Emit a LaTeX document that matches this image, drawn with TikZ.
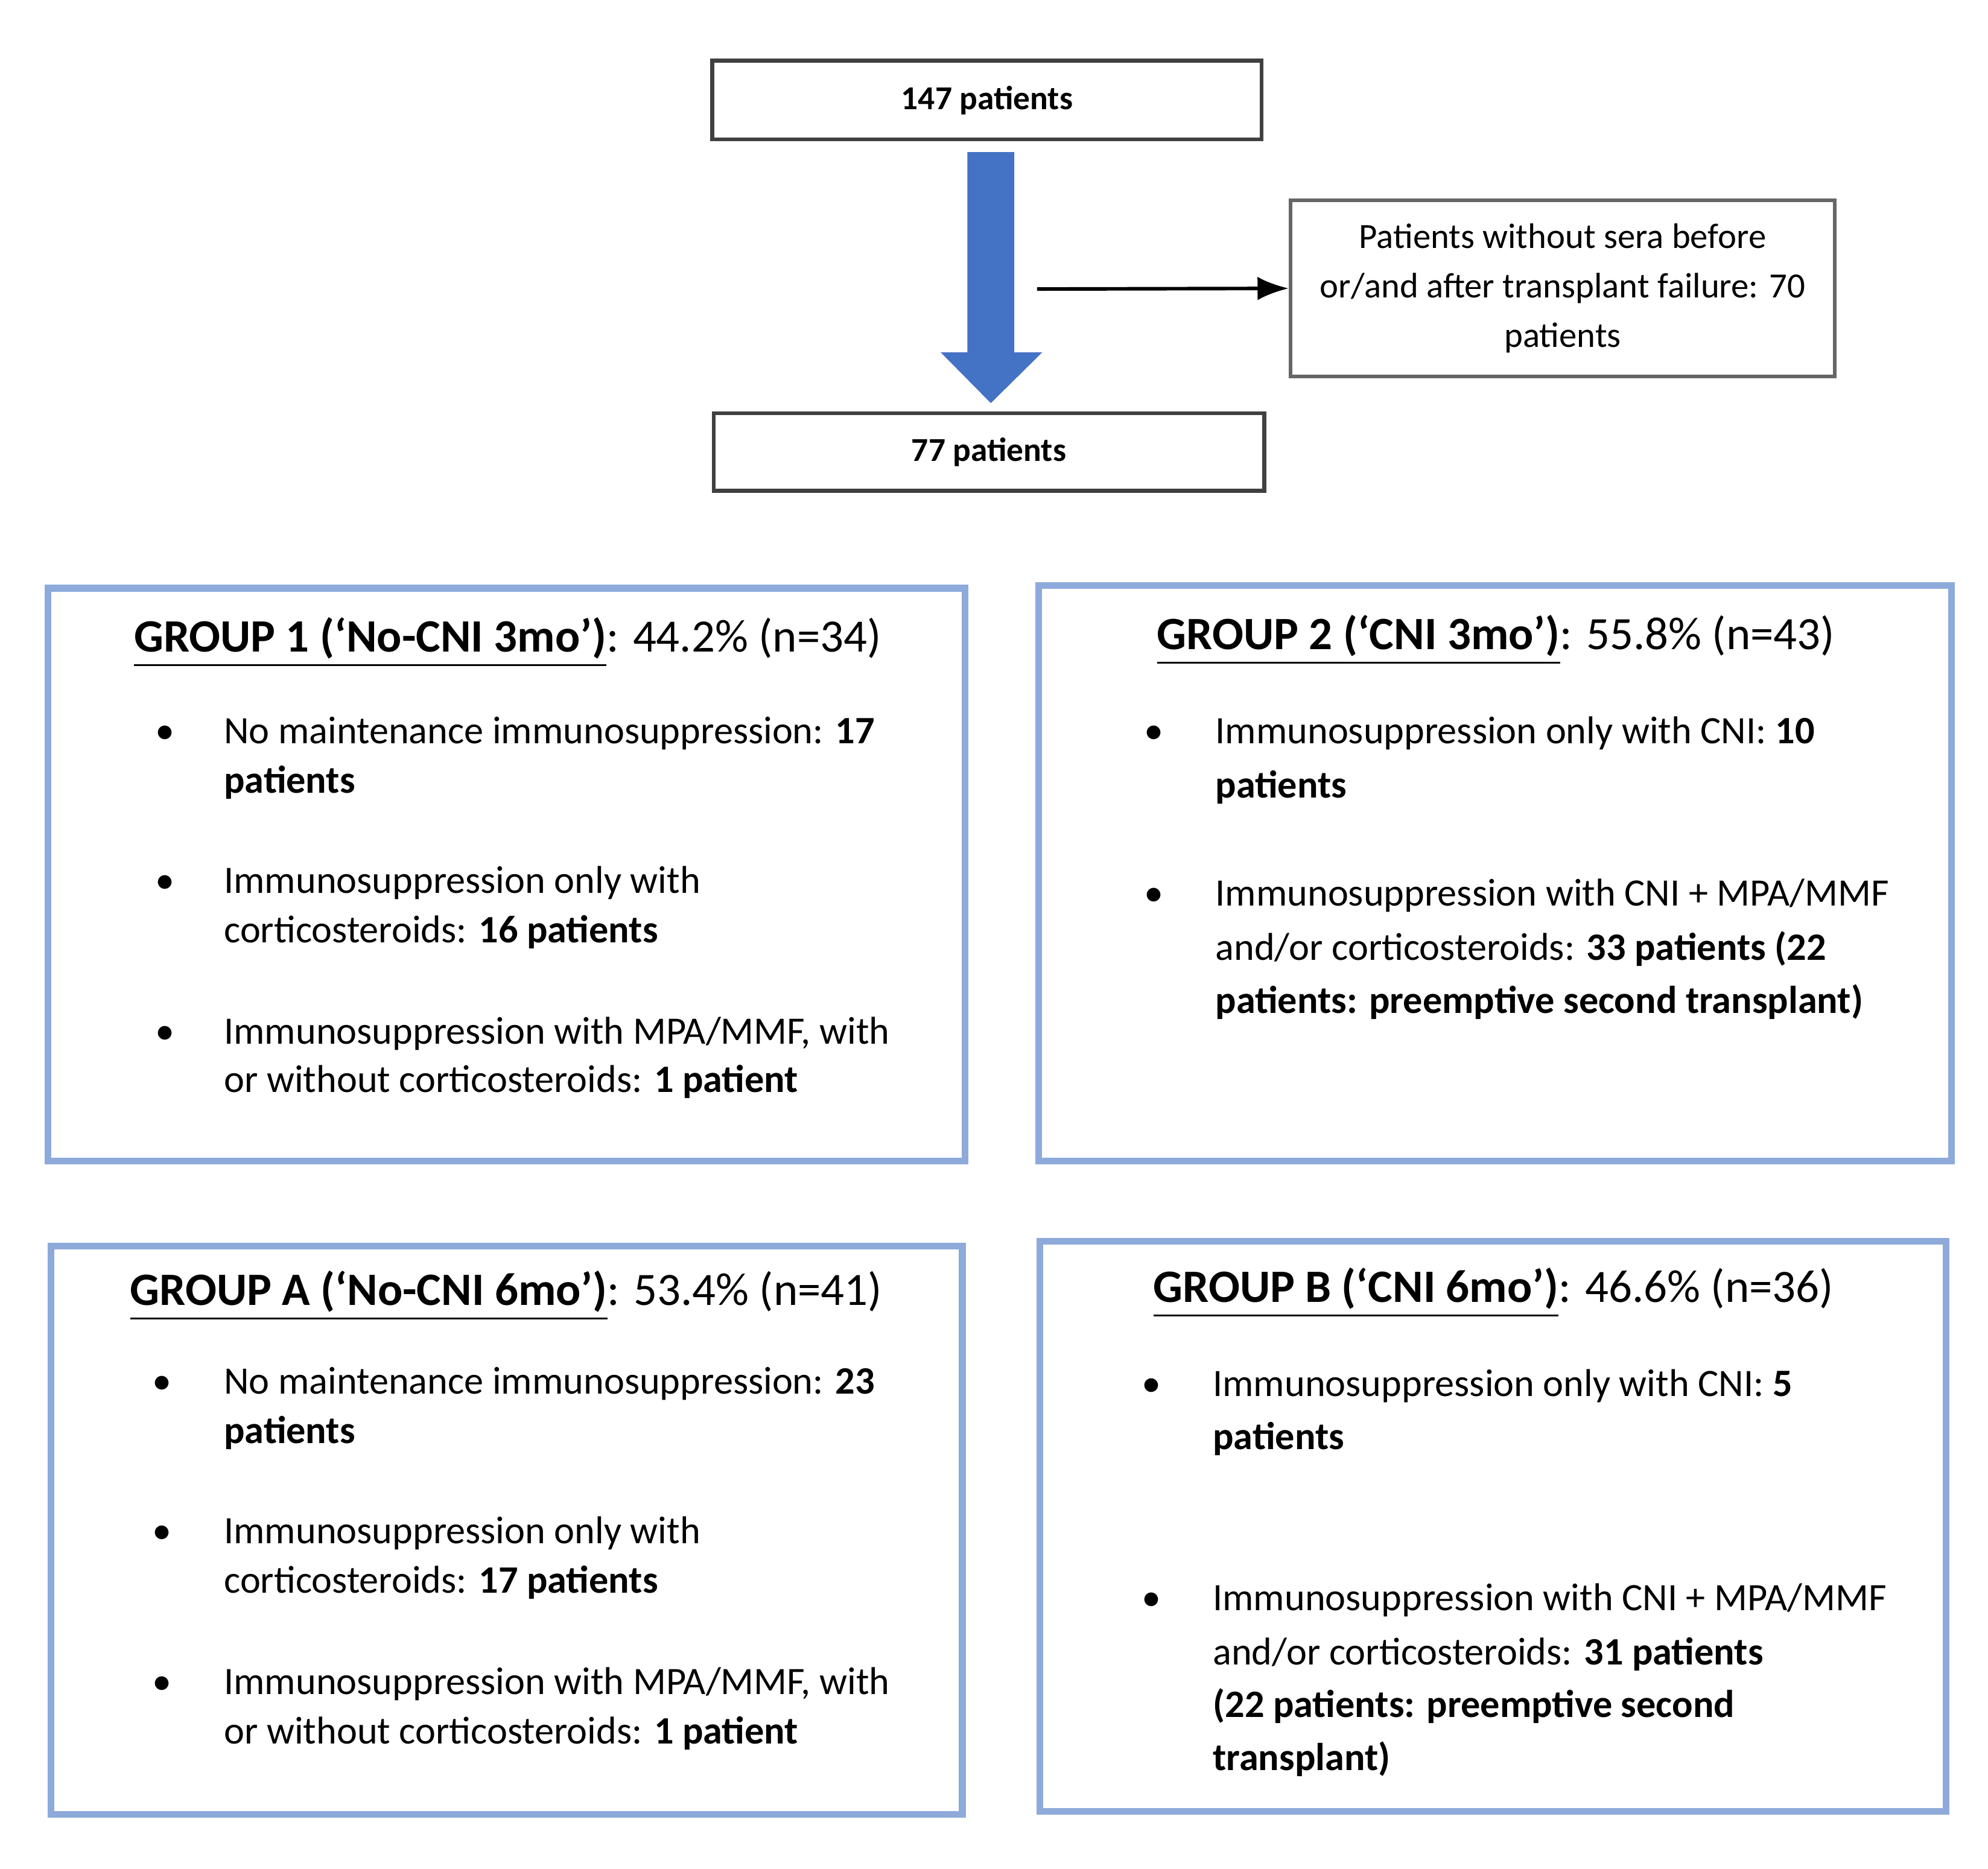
\documentclass[tikz,border=0pt]{standalone}
\usepackage{fontspec}
\setmainfont{Carlito}
\usetikzlibrary{arrows.meta}
\definecolor{gb}{HTML}{8EAADB}
\definecolor{ab}{HTML}{4472C4}
\begin{document}
\begin{tikzpicture}[x=0.01cm,y=-0.01cm,
  gbox/.style={draw=gb,line width=1.5pt},
  tbox/.style={draw=black!75,line width=0.9pt,inner sep=0pt,font=\fontsize{7.5}{9}\selectfont\bfseries},
  ln/.style={anchor=mid west,inner sep=0pt,font=\fontsize{8.7}{10}\selectfont},
  tt/.style={anchor=mid west,inner sep=0pt,font=\fontsize{10.4}{12}\selectfont},
  bl/.style={anchor=mid,inner sep=0pt,font=\fontsize{8.7}{10}\selectfont}]
\useasboundingbox (0,0) rectangle (1568,1474);
% top
\node[tbox,minimum width=4.33cm,minimum height=0.62cm] (p147) at (778.5,79) {147 patients};
\node[tbox,minimum width=4.34cm,minimum height=0.61cm] (p77) at (780,356.5) {77 patients};
\node[draw=black!60,line width=0.8pt,minimum width=4.29cm,minimum height=1.39cm,align=center,
  font=\fontsize{7.95}{11.1}\selectfont] (ex) at (1232.5,227.5)
  {Patients without sera before\\or/and after transplant failure: 70\\patients};
\fill[ab] (763,120) -- (800,120) -- (800,278) -- (822,278) -- (781.5,318) -- (742,278) -- (763,278) -- cycle;
\coordinate (as) at (818,228);
\draw[-{Latex[length=7pt]},line width=0.8pt] (as) -- (ex.west);
% boxes
\draw[gbox] (38,464) rectangle (761,916);
\draw[gbox] (819,462) rectangle (1539,916);
\draw[gbox] (40,983) rectangle (759,1431);
\draw[gbox] (820,979) rectangle (1535,1429);
% group 1
\node[tt] (g1) at (105,506) {\underline{\textbf{GROUP 1 (‘No-CNI 3mo’)}}: 44.2\% (n=34)};
\foreach \y/\n in {578/a,696/b,815/c} \node[bl] (g1\n) at (130,\y) {\textbullet};
\node[ln] (l11) at (176,578) {No maintenance immunosuppression: \textbf{17}};
\node[ln] (l12) at (176,617) {\textbf{patients}};
\node[ln] (l13) at (176,696) {Immunosuppression only with};
\node[ln] (l14) at (176,735) {corticosteroids: \textbf{16 patients}};
\node[ln] (l15) at (176,815) {Immunosuppression with MPA/MMF, with};
\node[ln] (l16) at (176,853) {or without corticosteroids: \textbf{1 patient}};
% group 2
\node[tt] (g2) at (912,504) {\underline{\textbf{GROUP 2 (‘CNI 3mo’)}}: 55.8\% (n=43)};
\foreach \y/\n in {578/a,706/b} \node[bl] (g2\n) at (910,\y) {\textbullet};
\node[ln] (l21) at (958,578) {Immunosuppression only with CNI: \textbf{10}};
\node[ln] (l22) at (958,621) {\textbf{patients}};
\node[ln] (l23) at (958,706) {Immunosuppression with CNI + MPA/MMF};
\node[ln] (l24) at (958,749) {and/or corticosteroids: \textbf{33 patients (22}};
\node[ln] (l25) at (958,791) {\textbf{patients: preemptive second transplant)}};
% group A
\node[tt] (gA) at (102,1021) {\underline{\textbf{GROUP A (‘No-CNI 6mo’)}}: 53.4\% (n=41)};
\foreach \y/\n in {1091/a,1209/b,1328/c} \node[bl] (gA\n) at (128,\y) {\textbullet};
\node[ln] (lA1) at (176,1091) {No maintenance immunosuppression: \textbf{23}};
\node[ln] (lA2) at (176,1130) {\textbf{patients}};
\node[ln] (lA3) at (176,1209) {Immunosuppression only with};
\node[ln] (lA4) at (176,1248) {corticosteroids: \textbf{17 patients}};
\node[ln] (lA5) at (176,1328) {Immunosuppression with MPA/MMF, with};
\node[ln] (lA6) at (176,1367) {or without corticosteroids: \textbf{1 patient}};
% group B
\node[tt] (gB) at (909,1019) {\underline{\textbf{GROUP B (‘CNI 6mo’)}}: 46.6\% (n=36)};
\foreach \y/\n in {1093/a,1262/b} \node[bl] (gB\n) at (908,\y) {\textbullet};
\node[ln] (lB1) at (956,1093) {Immunosuppression only with CNI: \textbf{5}};
\node[ln] (lB2) at (956,1135) {\textbf{patients}};
\node[ln] (lB3) at (956,1262) {Immunosuppression with CNI + MPA/MMF};
\node[ln] (lB4) at (956,1305) {and/or corticosteroids: \textbf{31 patients}};
\node[ln] (lB5) at (956,1346) {\textbf{(22 patients: preemptive second}};
\node[ln] (lB6) at (956,1388) {\textbf{transplant)}};
\end{tikzpicture}
\end{document}
